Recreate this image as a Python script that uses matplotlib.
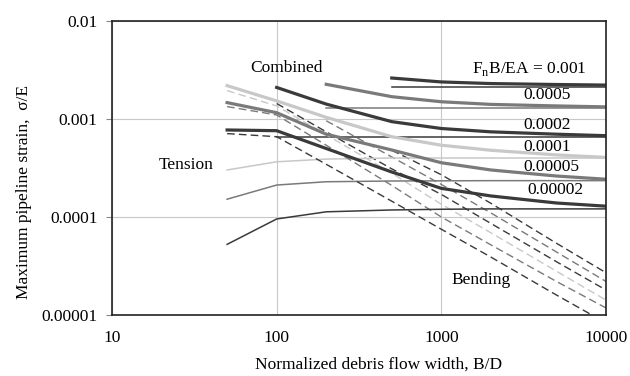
import numpy as np
import matplotlib
matplotlib.use("Agg")
import matplotlib.pyplot as plt

# Normalized debris flow width B/D where results were computed
width = [50, 100, 200, 500, 1000, 2000, 5000, 10000]
nan = np.nan

# Normal force parameter FnB/EA for each family of curves
ratios = ["0.001", "0.0005", "0.0002", "0.0001", "0.00005", "0.00002"]

# Axial (tension) strain
tension = {
    "0.001":   [nan, nan, nan, 2.14e-3, 2.14e-3, 2.14e-3, 2.14e-3, 2.14e-3],
    "0.0005":  [nan, nan, 1.29e-3, 1.29e-3, 1.29e-3, 1.29e-3, 1.29e-3, 1.29e-3],
    "0.0002":  [nan, 6.6e-4, 6.6e-4, 6.6e-4, 6.6e-4, 6.6e-4, 6.6e-4, 6.6e-4],
    "0.0001":  [3.02e-4, 3.66e-4, 3.9e-4, 4.0e-4, 4.0e-4, 4.0e-4, 4.0e-4, 4.0e-4],
    "0.00005": [1.52e-4, 2.12e-4, 2.29e-4, 2.33e-4, 2.34e-4, 2.35e-4, 2.35e-4, 2.35e-4],
    "0.00002": [5.26e-5, 9.55e-5, 1.13e-4, 1.18e-4, 1.2e-4, 1.21e-4, 1.21e-4, 1.21e-4],
}

# Bending strain
bending = {
    "0.001":   [nan, nan, nan, 4.8e-4, 2.7e-4, 1.38e-4, 5.4e-5, 2.7e-5],
    "0.0005":  [nan, nan, 9.6e-4, 4.1e-4, 2.15e-4, 1.1e-4, 4.4e-5, 2.2e-5],
    "0.0002":  [nan, 1.44e-3, 7.4e-4, 3.1e-4, 1.7e-4, 8.6e-5, 3.5e-5, 1.8e-5],
    "0.0001":  [1.95e-3, 1.36e-3, 6.9e-4, 2.8e-4, 1.35e-4, 6.9e-5, 2.8e-5, 1.42e-5],
    "0.00005": [1.34e-3, 1.1e-3, 5.4e-4, 2.1e-4, 1.0e-4, 5.2e-5, 2.2e-5, 1.18e-5],
    "0.00002": [7.1e-4, 6.6e-4, 3.45e-4, 1.45e-4, 7.5e-5, 3.9e-5, 1.6e-5, 8.3e-6],
}

# Combined strain
combined = {
    "0.001":   [nan, nan, nan, 2.62e-3, 2.39e-3, 2.30e-3, 2.25e-3, 2.22e-3],
    "0.0005":  [nan, nan, 2.26e-3, 1.69e-3, 1.50e-3, 1.41e-3, 1.36e-3, 1.33e-3],
    "0.0002":  [nan, 2.10e-3, 1.42e-3, 9.4e-4, 8.0e-4, 7.4e-4, 7.0e-4, 6.76e-4],
    "0.0001":  [2.19e-3, 1.53e-3, 1.04e-3, 6.6e-4, 5.4e-4, 4.8e-4, 4.3e-4, 4.06e-4],
    "0.00005": [1.47e-3, 1.16e-3, 7.0e-4, 4.83e-4, 3.58e-4, 3.02e-4, 2.62e-4, 2.43e-4],
    "0.00002": [7.73e-4, 7.6e-4, 5.0e-4, 2.88e-4, 1.96e-4, 1.64e-4, 1.39e-4, 1.29e-4],
}

shades = {
    "0.001": "#3a3a3a",
    "0.0005": "#7a7a7a",
    "0.0002": "#3a3a3a",
    "0.0001": "#c8c8c8",
    "0.00005": "#7a7a7a",
    "0.00002": "#3a3a3a",
}

# where each ratio label sits (left edge, vertical centre)
label_pos = {
    "0.0005": (3130, 1.76e-3),
    "0.0002": (3130, 8.7e-4),
    "0.0001": (3130, 5.2e-4),
    "0.00005": (3130, 3.26e-4),
    "0.00002": (3310, 1.89e-4),
}

plt.rcParams["font.family"] = ["Liberation Serif", "DejaVu Serif"]
plt.rcParams["mathtext.fontset"] = "custom"
plt.rcParams["mathtext.rm"] = "Liberation Serif"
plt.rcParams["font.size"] = 12.5

fig = plt.figure(figsize=(6.3, 3.76), dpi=100)
ax = fig.add_axes([0.1778, 0.1622, 0.7841, 0.7819])

for r in ratios:
    c = shades[r]
    ax.plot(width, bending[r], color=c, lw=1.0, dashes=(5.5, 3))
    ax.plot(width, tension[r], color=c, lw=1.1)
    ax.plot(width, combined[r], color=c, lw=2.3)

ax.set_xscale("log")
ax.set_yscale("log")
ax.set_xlim(10, 10000)
ax.set_ylim(1e-5, 1e-2)

ax.set_xticks([10, 100, 1000, 10000])
ax.set_xticklabels(["10", "100", "1000", "10000"])
ax.set_yticks([1e-5, 1e-4, 1e-3, 1e-2])
ax.set_yticklabels(["0.00001", "0.0001", "0.001", "0.01"])
ax.minorticks_off()
ax.tick_params(axis="x", length=0, pad=11)
ax.tick_params(axis="y", length=4.5, width=0.8, color="#888888", pad=6)

ax.grid(True, color="#c8c8c8", lw=0.8)
ax.set_axisbelow(True)
for s in ax.spines.values():
    s.set_color("#222222")
    s.set_linewidth(1.2)

ax.set_xlabel("Normalized debris flow width, B/D")
ax.xaxis.set_label_coords(0.54, -0.14)
ax.set_ylabel("Maximum pipeline strain,  \u03c3/E")
ax.yaxis.set_label_coords(-0.162, 0.42)

ax.text(114, 3.3e-3, "Combined", ha="center", va="center")
ax.text(28.3, 3.4e-4, "Tension", ha="center", va="center")
ax.text(1740, 2.28e-5, "Bending", ha="center", va="center")
ax.text(1535, 3.24e-3, r"F$_\mathregular{n}$B/EA = 0.001", ha="left", va="center")
for r, (lx, ly) in label_pos.items():
    ax.text(lx, ly, r, ha="left", va="center")

fig.savefig("out.png", dpi=100)
